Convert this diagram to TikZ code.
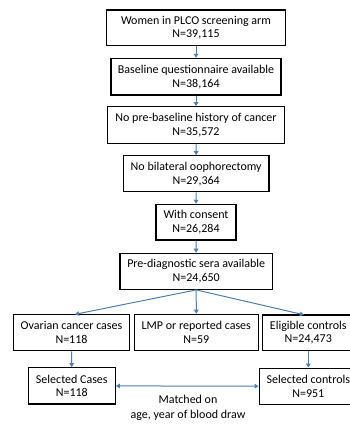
\documentclass[tikz,border=0pt]{standalone}
\usepackage{fontspec}
\setmainfont{Carlito}
\usetikzlibrary{arrows.meta}
\definecolor{arrowblue}{HTML}{4A7EBB}
\begin{document}
\begin{tikzpicture}[x=1pt,y=-1pt,
  box/.style={draw=black, line width=1.2pt, fill=white, align=center, inner sep=0pt,
    font=\fontsize{12}{13.8}\selectfont},
  conn/.style={draw=arrowblue, line width=1pt, -{Triangle[length=4pt,width=4.5pt]}},
  conn2/.style={draw=arrowblue, line width=1pt, {Triangle[length=4pt,width=4.5pt]}-{Triangle[length=4pt,width=4.5pt]}},
  lab/.style={align=center, inner sep=0pt, font=\fontsize{12}{14.5}\selectfont}]
\useasboundingbox (0,0) rectangle (350,424);
\clip (0,0) rectangle (350,424);
\node[box, minimum width=179.4pt, minimum height=35.3pt] (b1) at (196,27.7) {Women in PLCO screening arm\\N=39,115};
\node[box, minimum width=170pt, minimum height=36.7pt] (b2) at (196,76.7) {Baseline questionnaire available\\N=38,164};
\node[box, minimum width=176.6pt, minimum height=36.6pt] (b3) at (196,125) {No pre-baseline history of cancer\\N=35,572};
\node[box, minimum width=145.7pt, minimum height=36pt] (b4) at (196.2,173.7) {No bilateral oophorectomy\\N=29,364};
\node[box, minimum width=80pt, minimum height=35.7pt] (b5) at (196,222.2) {With consent\\N=26,284};
\node[box, minimum width=152.3pt, minimum height=36pt] (b6) at (196.2,271.3) {Pre-diagnostic sera available\\N=24,650};
\node[box, minimum width=116.4pt, minimum height=36.4pt] (b7) at (71.5,332.5) {Ovarian cancer cases\\N=118};
\node[box, minimum width=124pt, minimum height=36.4pt] (b8) at (196.3,332.5) {LMP or reported cases\\N=59};
\node[box, minimum width=91.6pt, minimum height=35.4pt] (b9) at (308.3,332.6) {Eligible controls\\N=24,473};
\node[box, minimum width=87pt, minimum height=36.3pt] (b10) at (71.8,385.9) {Selected Cases\\N=118};
\node[box, minimum width=98.2pt, minimum height=36pt] (b11) at (308.3,386.2) {Selected controls\\N=951};
\node[lab] (m) at (188,408) {Matched on\\age, year of blood draw};
\draw[conn] (b1) -- (b2);
\draw[conn] (b2) -- (b3);
\draw[conn] (b3) -- (b4);
\draw[conn] (b4) -- (b5);
\draw[conn] (b5) -- (b6);
\coordinate (t7) at (75,314.3);
\coordinate (t9) at (304,314.8);
\draw[conn] (b6.south) -- (t7);
\draw[conn] (b6.south) -- (b8.north);
\draw[conn] (b6.south) -- (t9);
\draw[conn] (b7) -- (b10);
\draw[conn] (b9) -- (b11);
\draw[conn2] (b10.east) -- (b11.west);
\end{tikzpicture}
\end{document}
